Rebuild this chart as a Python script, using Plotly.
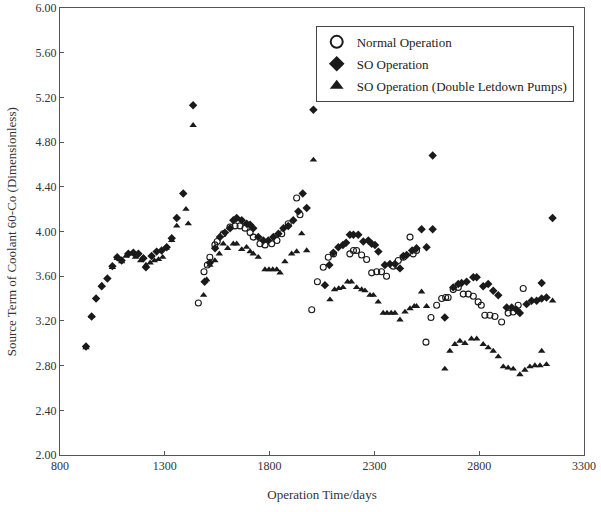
import plotly.graph_objects as go

# ---- data ----
normal_days = [1460, 1487, 1503, 1515, 1539, 1550, 1579, 1611, 1635, 1659, 1683, 1707, 1722, 1754, 1778, 1810, 1835, 1858, 1889, 1929, 1945,
               2001, 2028, 2056, 2080, 2105, 2183, 2200, 2215, 2239, 2263, 2287, 2311, 2334, 2358, 2390, 2414, 2438, 2470, 2485, 2501,
               2546, 2570, 2597, 2621, 2640, 2652, 2676, 2700, 2724, 2748, 2772, 2795, 2810, 2827, 2851, 2875, 2907, 2938, 2962, 2986, 3010]
normal_vals = [3.36, 3.64, 3.70, 3.77, 3.88, 3.91, 3.98, 4.04, 4.05, 4.05, 4.03, 3.99, 3.95, 3.89, 3.88, 3.89, 3.92, 3.98, 4.07, 4.30, 4.15,
               3.30, 3.55, 3.68, 3.77, 3.80, 3.80, 3.83, 3.83, 3.79, 3.75, 3.63, 3.64, 3.64, 3.60, 3.69, 3.74, 3.77, 3.95, 3.80, 3.83,
               3.01, 3.23, 3.34, 3.40, 3.41, 3.41, 3.48, 3.50, 3.44, 3.44, 3.42, 3.37, 3.34, 3.25, 3.25, 3.24, 3.19, 3.27, 3.28, 3.34, 3.49]

so_days = [924, 951, 972, 999, 1026, 1050, 1073, 1094, 1126, 1150, 1174, 1198, 1210, 1237, 1261, 1285, 1309, 1333, 1357, 1388, 1435,
           1490, 1515, 1540, 1563, 1587, 1611, 1627, 1643, 1667, 1691, 1707, 1722, 1746, 1770, 1794, 1818, 1842, 1866, 1889, 1913, 1937, 1958, 1977, 2009,
           2064, 2085, 2104, 2128, 2150, 2165, 2183, 2200, 2223, 2247, 2271, 2287, 2303, 2319, 2350, 2374, 2398, 2422, 2438, 2454, 2480, 2501, 2525, 2549, 2578, 2578,
           2636, 2676, 2700, 2716, 2740, 2772, 2788, 2819, 2843, 2867, 2891, 2931, 2955, 2978, 2994, 3026, 3050, 3074, 3098, 3098, 3121, 3150]
so_vals = [2.97, 3.24, 3.40, 3.51, 3.58, 3.69, 3.77, 3.74, 3.80, 3.81, 3.80, 3.76, 3.68, 3.78, 3.82, 3.83, 3.86, 3.94, 4.12, 4.34, 5.13,
           3.55, 3.72, 3.85, 3.95, 3.99, 4.03, 4.10, 4.12, 4.10, 4.07, 4.06, 4.03, 3.95, 3.92, 3.92, 3.95, 3.98, 4.03, 4.05, 4.10, 4.18, 4.34, 4.21, 5.09,
           3.52, 3.70, 3.81, 3.86, 3.88, 3.90, 3.97, 3.97, 3.97, 3.91, 3.92, 3.89, 3.88, 3.82, 3.70, 3.71, 3.71, 3.67, 3.78, 3.79, 3.83, 3.85, 4.02, 3.86, 4.02, 4.68,
           3.23, 3.50, 3.53, 3.54, 3.55, 3.59, 3.59, 3.51, 3.53, 3.47, 3.43, 3.32, 3.32, 3.30, 3.27, 3.35, 3.38, 3.38, 3.40, 3.54, 3.41, 4.12]

dbl_days = [924, 951, 1000, 1050, 1073, 1094, 1115, 1140, 1160, 1185, 1210, 1230, 1250, 1270, 1290, 1306, 1333, 1357, 1401, 1412, 1435,
            1485, 1500, 1515, 1539, 1560, 1579, 1600, 1627, 1643, 1667, 1690, 1707, 1722, 1746, 1778, 1797, 1815, 1834, 1850, 1873, 1905, 1929, 1953, 1977, 2009,
            2088, 2110, 2130, 2150, 2172, 2190, 2215, 2239, 2255, 2279, 2295, 2318, 2342, 2360, 2380, 2398, 2422, 2446, 2470, 2490, 2501, 2525, 2549,
            2636, 2660, 2684, 2708, 2732, 2763, 2788, 2819, 2843, 2867, 2891, 2915, 2938, 2962, 2994, 3018, 3042, 3066, 3090, 3098, 3121, 3150]
dbl_vals = [2.96, 3.24, 3.52, 3.68, 3.76, 3.73, 3.78, 3.80, 3.77, 3.74, 3.70, 3.72, 3.74, 3.75, 3.77, 3.85, 3.92, 4.05, 4.20, 4.07, 4.95,
            3.43, 3.57, 3.70, 3.74, 3.80, 3.89, 3.85, 3.89, 3.89, 3.84, 3.86, 3.82, 3.80, 3.77, 3.66, 3.66, 3.66, 3.66, 3.63, 3.73, 3.80, 3.82, 3.98, 3.83, 4.64,
            3.39, 3.48, 3.49, 3.50, 3.55, 3.55, 3.50, 3.48, 3.47, 3.43, 3.43, 3.37, 3.27, 3.27, 3.27, 3.27, 3.21, 3.28, 3.31, 3.33, 3.33, 3.46, 3.33,
            2.77, 2.93, 2.99, 3.02, 3.00, 3.04, 3.04, 2.99, 2.96, 2.93, 2.88, 2.79, 2.78, 2.77, 2.72, 2.76, 2.79, 2.80, 2.80, 2.93, 2.81, 3.38]

series_names = ["Normal Operation", "SO Operation", "SO Operation (Double Letdown Pumps)"]
x_ticks = [800, 1300, 1800, 2300, 2800, 3300]
y_ticks = [2.0, 2.4, 2.8, 3.2, 3.6, 4.0, 4.4, 4.8, 5.2, 5.6, 6.0]
y_title = "Source Term of Coolant 60-Co (Dimensionless)"
x_title = "Operation Time/days"

FONT = "Liberation Serif"
INK = "#1a1a1a"
TXT = "#333333"

fig = go.Figure()
fig.add_trace(go.Scatter(x=normal_days, y=normal_vals, mode="markers", name=series_names[0], legendgroup="a",
                         marker=dict(symbol="circle-open", size=6, color=INK, line=dict(width=1.1, color=INK))))
fig.add_trace(go.Scatter(x=so_days, y=so_vals, mode="markers", name=series_names[1], legendgroup="b",
                         marker=dict(symbol="diamond", size=6.5, color=INK)))
fig.add_trace(go.Scatter(x=dbl_days, y=dbl_vals, mode="markers", name=series_names[2], legendgroup="c",
                         marker=dict(symbol="triangle-up", size=6.5, color=INK)))

fig.update_layout(
    template="none",
    width=601, height=512,
    margin=dict(l=60, r=17, t=8, b=57, autoexpand=False),
    paper_bgcolor="white", plot_bgcolor="white",
    font=dict(family=FONT, size=12, color=TXT),
    showlegend=True,
    legend=dict(x=0.488, y=0.96, xanchor="left", yanchor="top",
                bordercolor="#444", borderwidth=1, bgcolor="white",
                font=dict(family=FONT, size=13, color="#222"),
                itemsizing="constant", itemwidth=30, tracegroupgap=2),
    annotations=[dict(text=y_title, xref="paper", yref="paper", x=-0.092, y=0.5,
                      xanchor="center", yanchor="middle", textangle=-90, showarrow=False,
                      font=dict(family=FONT, size=13, color=TXT))],
)
fig.update_xaxes(range=[800, 3300], tickvals=x_ticks, ticktext=[str(v) for v in x_ticks],
                 automargin=False,
                 showgrid=False, zeroline=False, showline=True, linecolor="#555", linewidth=1,
                 mirror=True, ticks="inside", ticklen=4, tickcolor="#555",
                 tickfont=dict(family=FONT, size=12, color=TXT),
                 title=dict(text=x_title, font=dict(family=FONT, size=13, color=TXT), standoff=17))
fig.update_yaxes(range=[2.0, 6.0], tickvals=y_ticks, tickformat=".2f",
                 automargin=False,
                 showgrid=False, zeroline=False, showline=True, linecolor="#555", linewidth=1,
                 mirror=True, ticks="inside", ticklen=4, tickcolor="#555",
                 tickfont=dict(family=FONT, size=12, color=TXT))

# remove the browser's default 8px body margin so the figure sits at the window's corner
fig.write_html("out.html", config={"displayModeBar": False},
               post_script="document.body.style.margin='0px';")
